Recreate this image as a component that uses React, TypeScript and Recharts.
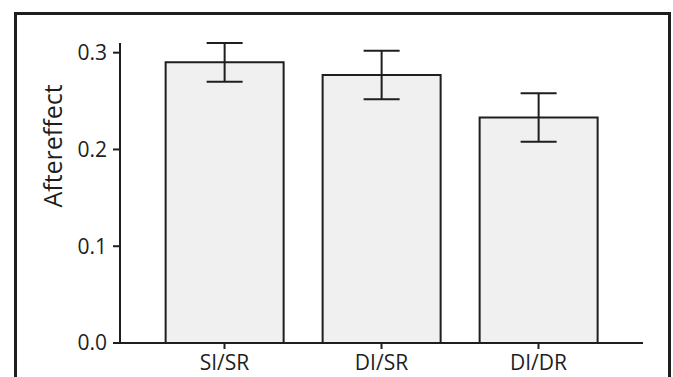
import { BarChart, Bar, XAxis, YAxis, ErrorBar } from "recharts";

const categories = ["SI/SR", "DI/SR", "DI/DR"];
const aftereffect = [0.29, 0.277, 0.233];
const sem = [0.02, 0.025, 0.025];
const yTicks = [0, 0.1, 0.2, 0.3];

const data = categories.map((name, i) => ({ name, value: aftereffect[i], err: sem[i] }));

const FONT = "'Open Sans', sans-serif";
const INK = "#1e1e1e";

const YLabel = ({ viewBox }: { viewBox?: { x: number; y: number } }) => {
  if (!viewBox) return null;
  const x = viewBox.x + 52;
  const y = viewBox.y + 103;
  return (
    <text x={x} y={y} transform={`rotate(-90, ${x}, ${y})`} textAnchor="middle" dominantBaseline="central"
      fontFamily={FONT} fontSize={25} fill={INK}>
      Aftereffect
    </text>
  );
};

export default function App() {
  return (
    <div style={{ position: "absolute", left: 0, top: 0, width: 673, height: 377, background: "#fff", overflow: "hidden" }}>
      <div style={{ position: "absolute", left: 14, top: 12, width: 651, height: 400, border: `3px solid ${INK}`, borderBottom: "none" }} />
      <div style={{ position: "absolute", left: 0, top: 0 }}>
        <BarChart width={673} height={377} data={data} margin={{ top: 43, right: 30, bottom: 4, left: 0 }} barCategoryGap="12.5%">
          <XAxis dataKey="name" height={30} padding={{ left: 26, right: 26 }} stroke={INK} strokeWidth={2}
            tickSize={6} tickMargin={6} tick={{ fontFamily: FONT, fontSize: 21, fill: INK }} />
          <YAxis width={120} domain={[0, 0.3]} ticks={yTicks} tickFormatter={(v: number) => v.toFixed(1)}
            stroke={INK} strokeWidth={2} tickSize={7} tickMargin={6}
            tick={{ fontFamily: FONT, fontSize: 21, fill: INK }} label={<YLabel />} />
          <Bar dataKey="value" fill="#f0f0f0" stroke={INK} strokeWidth={2} isAnimationActive={false}>
            <ErrorBar dataKey="err" width={18} stroke={INK} strokeWidth={2} isAnimationActive={false} />
          </Bar>
        </BarChart>
      </div>
    </div>
  );
}
